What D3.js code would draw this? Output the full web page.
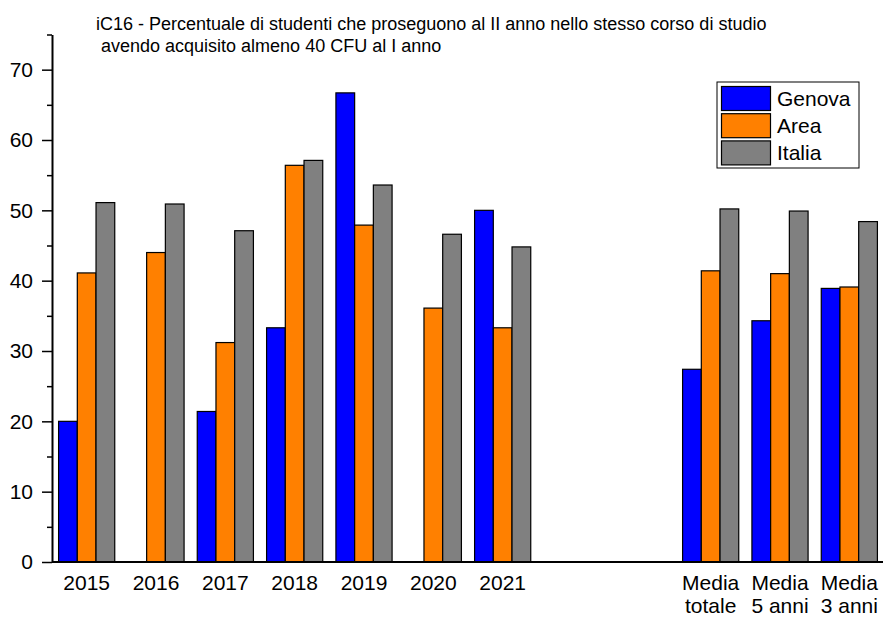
<!DOCTYPE html>
<html>
<head>
<meta charset="utf-8">
<script src="https://cdn.jsdelivr.net/npm/d3@7"></script>
<style>
  body { margin: 0; background: #fff; }
  svg { display: block; font-family: 'Liberation Sans', Arial, sans-serif; }
  .axis path, .axis line { stroke: #000; }
  .axis text { fill: #000; }
</style>
</head>
<body>
<svg class="canvas" width="883" height="621"></svg>
<script>
'use strict';

// data
const categories = ['2015', '2016', '2017', '2018', '2019', '2020', '2021',
  'gap1', 'gap2', 'Media totale', 'Media 5 anni', 'Media 3 anni'];
const genova = [20.0, null, 21.4, 33.3, 66.7, null, 50.0, null, null, 27.4, 34.3, 38.9];
const area   = [41.1, 44.0, 31.2, 56.4, 47.9, 36.1, 33.3, null, null, 41.4, 41.0, 39.1];
const italia = [51.1, 50.9, 47.1, 57.1, 53.6, 46.6, 44.8, null, null, 50.2, 49.9, 48.4];
const seriesNames = ['Genova', 'Area', 'Italia'];
const seriesColors = ['#0000ff', '#ff8000', '#808080'];
const yTicks = [0, 10, 20, 30, 40, 50, 60, 70];
const yMinorTicks = [5, 15, 25, 35, 45, 55, 65, 75];
const titleLines = [
  'iC16 - Percentuale di studenti che proseguono al II anno nello stesso corso di studio',
  ' avendo acquisito almeno 40 CFU al I anno'
];

const svg = d3.select('.canvas'),
  W = 883,
  margin = { left: 52, bottom: 562, top: 34.5 };

const x = d3.scaleBand(categories, [margin.left, W + 1])
    .paddingInner(0.19)
    .paddingOuter(0.095),
  xSub = d3.scaleBand(seriesNames, [0, x.bandwidth()]),
  y = d3.scaleLinear([0, 75], [margin.bottom, margin.top]);

const allSeries = [genova, area, italia];
const bars = [];
categories.forEach((c, i) => {
  seriesNames.forEach((s, j) => {
    const v = allSeries[j][i];
    if (v != null) bars.push({ cat: c, series: s, value: v, color: seriesColors[j] });
  });
});

svg.append('g')
  .selectAll('rect')
  .data(bars)
  .enter()
  .append('rect')
  .attr('x', d => x(d.cat) + xSub(d.series))
  .attr('width', xSub.bandwidth())
  .attr('y', d => y(d.value))
  .attr('height', d => y(0) - y(d.value))
  .attr('fill', d => d.color)
  .attr('stroke', '#000')
  .attr('stroke-width', 1.2);

// y axis, major + minor ticks
svg.append('g')
  .attr('class', 'axis')
  .attr('transform', `translate(${margin.left},0)`)
  .call(d3.axisLeft(y).tickValues(yMinorTicks).tickSize(5).tickFormat('').tickSizeOuter(0))
  .call(g => g.select('.domain').remove())
  .selectAll('line').attr('stroke-width', 1.5);

const yAxis = svg.append('g')
  .attr('class', 'axis')
  .attr('transform', `translate(${margin.left},0)`)
  .call(d3.axisLeft(y).tickValues(yTicks).tickSize(10).tickPadding(9).tickSizeOuter(0));
yAxis.select('.domain').attr('stroke-width', 2);
yAxis.selectAll('line').attr('stroke-width', 1.5);
yAxis.selectAll('text').attr('font-size', 21).attr('font-family', 'Liberation Sans, Arial, sans-serif');

// x axis
const xAxis = svg.append('g')
  .attr('class', 'axis')
  .attr('transform', `translate(0,${margin.bottom})`)
  .call(d3.axisBottom(x).tickSize(0).tickPadding(0).tickFormat(''));
xAxis.select('.domain').attr('stroke-width', 2.2).attr('d', `M${margin.left},0H${W}`);
xAxis.selectAll('.tick text').remove();

const labels = svg.append('g')
  .attr('font-size', 21)
  .attr('text-anchor', 'middle')
  .selectAll('text')
  .data(categories.filter(c => !c.startsWith('gap')))
  .enter()
  .append('text')
  .attr('transform', c => `translate(${x(c) + x.bandwidth() / 2},590)`);
labels.each(function (c) {
  const parts = c.startsWith('Media') ? ['Media', c.slice(6)] : [c];
  d3.select(this).selectAll('tspan')
    .data(parts)
    .enter()
    .append('tspan')
    .attr('x', 0)
    .attr('y', (d, i) => i * 22.5)
    .text(d => d);
});

// title
svg.append('g')
  .attr('font-size', 18)
  .selectAll('text')
  .data(titleLines)
  .enter()
  .append('text')
  .attr('x', 96)
  .attr('y', (d, i) => 29.5 + i * 22)
  .attr('xml:space', 'preserve')
  .style('white-space', 'pre')
  .text(d => d);

// legend
const legend = svg.append('g').attr('transform', 'translate(717,82)');
legend.append('rect')
  .attr('width', 142)
  .attr('height', 86)
  .attr('fill', '#fff')
  .attr('stroke', '#000')
  .attr('stroke-width', 1);
const item = legend.selectAll('.item')
  .data(seriesNames)
  .enter()
  .append('g')
  .attr('transform', (d, i) => `translate(4.5,${4.5 + i * 27.2})`);
item.append('rect')
  .attr('width', 49)
  .attr('height', 24)
  .attr('fill', (d, i) => seriesColors[i])
  .attr('stroke', '#000')
  .attr('stroke-width', 1.2);
item.append('text')
  .attr('x', 55.5)
  .attr('y', 19)
  .attr('font-size', 21)
  .text(d => d);
</script>
</body>
</html>
